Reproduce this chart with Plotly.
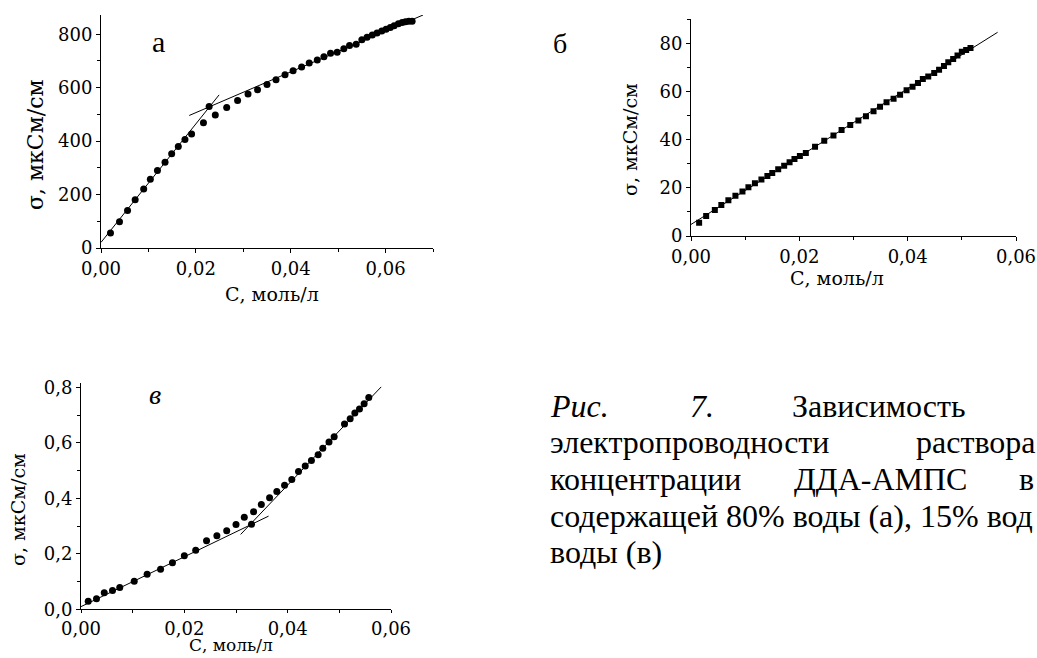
import plotly.graph_objects as go

W, H = 1037, 658

# ---------------- data ----------------
# panel а (80% water)
a_x = [0.0020, 0.0039, 0.0056, 0.0072, 0.0090, 0.0104, 0.0119, 0.0135, 0.0149, 0.0163,
       0.0177, 0.0191, 0.0216, 0.0228, 0.0241, 0.0265, 0.0288, 0.0310, 0.0330, 0.0350,
       0.0369, 0.0388, 0.0405, 0.0423, 0.0439, 0.0456, 0.0470, 0.0484, 0.0498, 0.0512,
       0.0524, 0.0538, 0.0550, 0.0561, 0.0572, 0.0582, 0.0592, 0.0601, 0.0610, 0.0618,
       0.0627, 0.0635, 0.0642, 0.0649, 0.0656]
a_y = [56, 98, 140, 181, 221, 257, 290, 321, 353, 380,
       406, 427, 469, 530, 498, 526, 552, 576, 592, 612,
       630, 648, 663, 677, 692, 704, 716, 729, 733, 746,
       758, 763, 779, 789, 797, 805, 812, 819, 825, 832,
       839, 844, 847, 849, 849]
a_fit1_x = [0.0, 0.0249]
a_fit1_y = [21, 573]
a_fit2_x = [0.0186, 0.0679]
a_fit2_y = [496, 872]

# panel б (15% water)
b_x = [0.0015, 0.0028, 0.0044, 0.0056, 0.0069, 0.0082, 0.0095, 0.0106, 0.0118, 0.0130,
       0.0141, 0.0150, 0.0161, 0.0172, 0.0182, 0.0191, 0.0201, 0.0212, 0.0229, 0.0246,
       0.0263, 0.0278, 0.0294, 0.0309, 0.0323, 0.0337, 0.0349, 0.0361, 0.0374, 0.0386,
       0.0398, 0.0409, 0.0419, 0.0428, 0.0438, 0.0449, 0.0458, 0.0467, 0.0475, 0.0484,
       0.0492, 0.0500, 0.0508, 0.0516]
b_y = [5.5, 8.3, 10.8, 12.9, 14.8, 16.7, 18.5, 20.2, 21.9, 23.5,
       24.9, 26.2, 27.7, 29.2, 30.6, 32.0, 33.2, 34.5, 37.1, 39.6,
       41.7, 44.0, 46.1, 48.0, 49.7, 51.8, 53.7, 55.5, 57.0, 58.7,
       60.5, 62.0, 63.5, 65.2, 66.2, 67.7, 69.0, 70.6, 72.2, 73.5,
       75.0, 76.5, 77.2, 78.1]
b_fit_x = [0.0, 0.0566]
b_fit_y = [4.8, 84.6]

# panel в
c_x = [0.0014, 0.0030, 0.0045, 0.0061, 0.0075, 0.0103, 0.0128, 0.0154, 0.0177, 0.0200,
       0.0222, 0.0243, 0.0263, 0.0282, 0.0300, 0.0316, 0.0330, 0.0334, 0.0349, 0.0365,
       0.0379, 0.0394, 0.0408, 0.0421, 0.0434, 0.0446, 0.0459, 0.0468, 0.0480, 0.0490,
       0.0510, 0.0521, 0.0530, 0.0539, 0.0548, 0.0557]
c_y = [0.029, 0.038, 0.060, 0.068, 0.079, 0.101, 0.126, 0.144, 0.168, 0.193,
       0.213, 0.247, 0.265, 0.283, 0.306, 0.332, 0.307, 0.352, 0.378, 0.402,
       0.425, 0.447, 0.468, 0.497, 0.517, 0.537, 0.557, 0.581, 0.603, 0.622,
       0.668, 0.687, 0.708, 0.722, 0.741, 0.764]
c_fit1_x = [0.0, 0.0363]
c_fit1_y = [0.0096, 0.336]
c_fit2_x = [0.0309, 0.0581]
c_fit2_y = [0.270, 0.802]

x_title = "С, моль/л"
y_title = "σ, мкСм/см"

# ---------------- helpers ----------------
def px(x):
    return x / W

def py(y):
    return 1 - y / H

SERIF = "DejaVu Serif, serif"
TICK_FONT = dict(family=SERIF, size=18, color="black")
TITLE_FONT = dict(family=SERIF, size=19, color="black")
CAP_FONT = dict(family="Liberation Serif, Times New Roman, serif", size=32, color="black")


def axis(domain, rng, dtick, minor, fmt, anchor, ticklen=4):
    return dict(
        domain=domain, range=rng, anchor=anchor, dtick=dtick, tick0=0,
        tickformat=fmt, showline=True, linecolor="black", linewidth=1,
        ticks="outside", ticklen=ticklen, tickwidth=1, tickcolor="black",
        showgrid=False, zeroline=False, tickfont=TICK_FONT, automargin=False,
        minor=dict(dtick=minor, tick0=0, ticks="outside", ticklen=3,
                   tickcolor="black", showgrid=False),
        fixedrange=True,
    )

fig = go.Figure()
mk = dict(color="black", size=7)
ln = dict(color="black", width=1)

fig.add_trace(go.Scatter(x=a_fit1_x, y=a_fit1_y, mode="lines", line=ln, xaxis="x", yaxis="y"))
fig.add_trace(go.Scatter(x=a_fit2_x, y=a_fit2_y, mode="lines", line=ln, xaxis="x", yaxis="y"))
fig.add_trace(go.Scatter(x=a_x, y=a_y, mode="markers", marker=mk, xaxis="x", yaxis="y"))

fig.add_trace(go.Scatter(x=b_fit_x, y=b_fit_y, mode="lines", line=ln, xaxis="x2", yaxis="y2"))
fig.add_trace(go.Scatter(x=b_x, y=b_y, mode="markers",
                         marker=dict(color="black", size=6, symbol="square"),
                         xaxis="x2", yaxis="y2"))

fig.add_trace(go.Scatter(x=c_fit1_x, y=c_fit1_y, mode="lines", line=ln, xaxis="x3", yaxis="y3"))
fig.add_trace(go.Scatter(x=c_fit2_x, y=c_fit2_y, mode="lines", line=ln, xaxis="x3", yaxis="y3"))
fig.add_trace(go.Scatter(x=c_x, y=c_y, mode="markers", marker=mk, xaxis="x3", yaxis="y3"))

ann = []

def text(t, x, y, font, xanchor="center", angle=0):
    ann.append(dict(text=t, x=px(x), y=py(y), xref="paper", yref="paper",
                    xanchor=xanchor, yanchor="middle", showarrow=False,
                    font=font, textangle=angle))

# axis titles
text(x_title, 272, 294, TITLE_FONT)
text(x_title, 837, 278, TITLE_FONT)
text(x_title, 231, 645, dict(TITLE_FONT, size=17))
text(y_title, 36, 145, dict(TITLE_FONT, size=22), angle=-90)
text(y_title, 630, 140, TITLE_FONT, angle=-90)
text(y_title, 18, 510, TITLE_FONT, angle=-90)

# panel letters
LET = dict(family="Liberation Serif, Times New Roman, serif", size=30, color="black")
text("а", 158, 41, LET)
text("б", 560, 43, dict(LET, size=28))
text("<i>в</i>", 155, 394, dict(LET, size=28))

# caption (justified lines)
cap = [
    (417, [("<i>Рис.</i>", 548), ("<i>7.</i>", 688), ("Зависимость", 790)]),
    (453, [("электропроводности", 548), ("раствора", 914)]),
    (490, [("концентрации", 548), ("ДДА-АМПС", 792), ("в", 1017)]),
    (527, [("содержащей 80% воды (а), 15% вод", 548)]),
    (563, [("воды (в)", 548)]),
]
for base, words in cap:
    for w, x in words:
        text(w, x, base - 11, CAP_FONT, xanchor="left")

fig.update_layout(
    width=W, height=H, margin=dict(l=0, r=0, t=0, b=0, autoexpand=False),
    paper_bgcolor="white", plot_bgcolor="white", showlegend=False,
    separators=", ",
    xaxis=axis([px(101), px(433)], [0, 0.07], 0.02, 0.01, ".2f", "y"),
    yaxis=axis([py(248), py(15)], [0, 872], 200, 100, "d", "x"),
    xaxis2=axis([px(691), px(1016)], [0, 0.06], 0.02, 0.01, ".2f", "y2"),
    yaxis2=axis([py(236), py(19.3)], [0, 90], 20, 10, "d", "x2"),
    xaxis3=axis([px(81), px(391)], [0, 0.06], 0.02, 0.01, ".2f", "y3", ticklen=3),
    yaxis3=axis([py(609.3), py(383.3)], [0, 0.815], 0.2, 0.1, ".1f", "x3"),
    annotations=ann,
)

fig.write_html("out.html", config={"displayModeBar": False})
